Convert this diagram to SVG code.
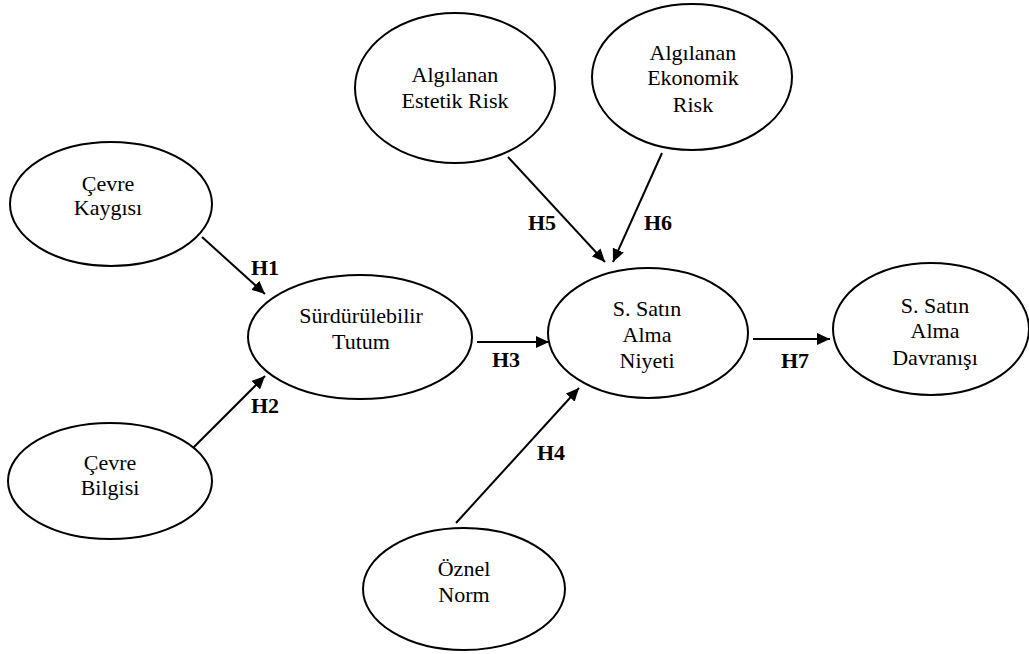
<svg xmlns="http://www.w3.org/2000/svg" width="1029" height="654" viewBox="0 0 1029 654">
<style>
.node ellipse{fill:#fff;stroke:#000;stroke-width:2}
.node text{font-family:"Liberation Serif","Times New Roman",serif;font-size:22px;text-anchor:middle;fill:#000}
.edge line{stroke:#000;stroke-width:2;marker-end:url(#arr)}
.lbl{font-family:"Liberation Serif","Times New Roman",serif;font-size:22px;font-weight:bold;text-anchor:middle;fill:#000}
</style>
<defs>
<marker id="arr" markerUnits="userSpaceOnUse" markerWidth="14" markerHeight="12" refX="13" refY="6" orient="auto">
<path d="M0,0 L13,6 L0,12 z" fill="#000"/>
</marker>
</defs>
<rect width="1029" height="654" fill="#fff"/>
<g id="connectors" class="edge">
<line x1="202" y1="237" x2="265" y2="294"/>
<line x1="193" y1="448" x2="265" y2="376"/>
<line x1="477" y1="342" x2="549" y2="342"/>
<line x1="456" y1="523" x2="579" y2="388"/>
<line x1="508" y1="157" x2="605" y2="262"/>
<line x1="662" y1="153" x2="613" y2="262"/>
<line x1="753" y1="339" x2="830" y2="339"/>
</g>
<g id="labels">
<text class="lbl" x="265" y="275">H1</text>
<text class="lbl" x="265" y="413">H2</text>
<text class="lbl" x="506" y="367">H3</text>
<text class="lbl" x="551" y="460">H4</text>
<text class="lbl" x="542" y="230">H5</text>
<text class="lbl" x="658" y="230">H6</text>
<text class="lbl" x="795" y="368">H7</text>
</g>
<g id="cevre-kaygisi" class="node">
<ellipse cx="111" cy="204" rx="101" ry="62"/>
<text x="108" y="191">Çevre</text>
<text x="108" y="215">Kaygısı</text>
</g>
<g id="cevre-bilgisi" class="node">
<ellipse cx="110" cy="481" rx="102" ry="58"/>
<text x="110" y="470">Çevre</text>
<text x="110" y="495">Bilgisi</text>
</g>
<g id="surdurulebilir-tutum" class="node">
<ellipse cx="360" cy="337" rx="112" ry="62"/>
<text x="361" y="323">Sürdürülebilir</text>
<text x="361" y="349">Tutum</text>
</g>
<g id="satin-alma-niyeti" class="node">
<ellipse cx="648" cy="333" rx="100" ry="65"/>
<text x="647" y="316">S. Satın</text>
<text x="647" y="342">Alma</text>
<text x="647" y="368">Niyeti</text>
</g>
<g id="satin-alma-davranisi" class="node">
<ellipse cx="931" cy="329" rx="98" ry="66"/>
<text x="935" y="313">S. Satın</text>
<text x="935" y="338">Alma</text>
<text x="935" y="365">Davranışı</text>
</g>
<g id="estetik-risk" class="node">
<ellipse cx="455" cy="88" rx="100" ry="75"/>
<text x="455" y="82">Algılanan</text>
<text x="455" y="108">Estetik Risk</text>
</g>
<g id="ekonomik-risk" class="node">
<ellipse cx="692" cy="77" rx="100" ry="73"/>
<text x="693" y="60">Algılanan</text>
<text x="693" y="85">Ekonomik</text>
<text x="693" y="112">Risk</text>
</g>
<g id="oznel-norm" class="node">
<ellipse cx="464" cy="589" rx="101" ry="61"/>
<text x="464" y="576">Öznel</text>
<text x="464" y="602">Norm</text>
</g>
</svg>
